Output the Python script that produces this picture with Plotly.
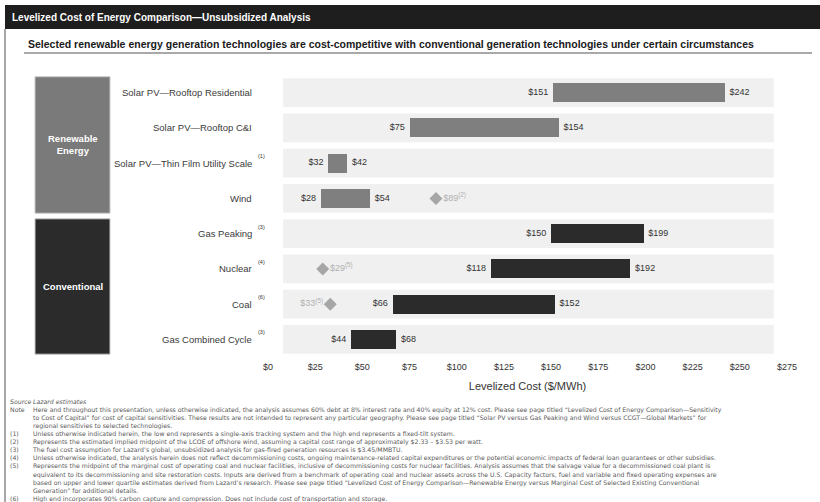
import plotly.graph_objects as go

# ---------------- data ----------------
categories = ["Solar PV—Rooftop Residential", "Solar PV—Rooftop C&I",
              "Solar PV—Thin Film Utility Scale", "Wind", "Gas Peaking",
              "Nuclear", "Coal", "Gas Combined Cycle"]
cat_notes = ["", "", "(1)", "", "(3)", "(4)", "(6)", "(3)"]
groups = ["Renewable", "Renewable", "Renewable", "Renewable",
          "Conventional", "Conventional", "Conventional", "Conventional"]
low_values = [151, 75, 32, 28, 150, 118, 66, 44]
high_values = [242, 154, 42, 54, 199, 192, 152, 68]
marker_rows = ["Wind", "Nuclear", "Coal"]
marker_values = [89, 29, 33]
marker_notes = ["(2)", "(5)", "(5)"]
marker_sides = ["right", "right", "left"]
tick_values = [0, 25, 50, 75, 100, 125, 150, 175, 200, 225, 250, 275]
tick_labels = ["$" + str(v) for v in tick_values]

title_text = "Levelized Cost of Energy Comparison—Unsubsidized Analysis"
subtitle_text = ("Selected renewable energy generation technologies are cost-competitive "
                 "with conventional generation technologies under certain circumstances")
footnotes = [
    ("<i>Source</i>", "<i>Lazard estimates</i>"),
    ("Note", "Here and throughout this presentation, unless otherwise indicated, the analysis assumes 60% debt at 8% interest rate and 40% equity at 12% cost. Please see page titled \u201cLevelized Cost of Energy Comparison\u2014Sensitivity"),
    ("", "to Cost of Capital\u201d for cost of capital sensitivities. These results are not intended to represent any particular geography. Please see page titled \u201cSolar PV versus Gas Peaking and Wind versus CCGT\u2014Global Markets\u201d for"),
    ("", "regional sensitivies to selected technologies."),
    ("(1)", "Unless otherwise indicated herein, the low end represents a single-axis tracking system and the high end represents a fixed-tilt system."),
    ("(2)", "Represents the estimated implied midpoint of the LCOE of offshore wind, assuming a capital cost range of approximately $2.33 \u2013 $3.53 per watt."),
    ("(3)", "The fuel cost assumption for Lazard\u2019s global, unsubsidized analysis for gas-fired generation resources is $3.45/MMBTU."),
    ("(4)", "Unless otherwise indicated, the analysis herein does not reflect decommissioning costs, ongoing maintenance-related capital expenditures or the potential economic impacts of federal loan guarantees or other subsidies."),
    ("(5)", "Represents the midpoint of the marginal cost of operating coal and nuclear facilities, inclusive of decommissioning costs for nuclear facilities. Analysis assumes that the salvage value for a decommissioned coal plant is"),
    ("", "equivalent to its decommissioning and site restoration costs. Inputs are derived from a benchmark of operating coal and nuclear assets across the U.S. Capacity factors, fuel and variable and fixed operating expenses are"),
    ("", "based on upper and lower quartile estimates derived from Lazard\u2019s research. Please see page titled \u201cLevelized Cost of Energy Comparison\u2014Renewable Energy versus Marginal Cost of Selected Existing Conventional"),
    ("", "Generation\u201d for additional details."),
    ("(6)", "High end incorporates 90% carbon capture and compression. Does not include cost of transportation and storage."),
]

# ---------------- layout geometry ----------------
W, H = 820, 502
L, R, T, B = 268, 33, 75, 145
PW, PH = W - L - R, H - T - B


def px(x):
    return (x - L) / PW


def py(y):
    return 1 - (y - T) / PH


FONT = "Liberation Sans, Arial, sans-serif"
NOTE_FONT = "DejaVu Sans"
colors = {"Renewable": "#7f7f7f", "Conventional": "#2b2b2b"}
rows = list(range(len(categories)))

fig = go.Figure()

# bars (floating ranges)
fig.add_trace(go.Bar(
    y=rows, x=[h - l for l, h in zip(low_values, high_values)], base=low_values,
    orientation="h", width=0.54,
    marker=dict(color=[colors[g] for g in groups], line=dict(width=0)),
    hoverinfo="skip", showlegend=False))

# low / high value labels
fig.add_trace(go.Scatter(
    x=low_values, y=rows, mode="markers+text",
    text=["$" + str(v) for v in low_values], textposition="middle left",
    marker=dict(size=6, opacity=0), textfont=dict(family=FONT, size=9, color="#333333"),
    hoverinfo="skip", showlegend=False, cliponaxis=False))
fig.add_trace(go.Scatter(
    x=high_values, y=rows, mode="markers+text",
    text=["$" + str(v) for v in high_values], textposition="middle right",
    marker=dict(size=6, opacity=0), textfont=dict(family=FONT, size=9, color="#333333"),
    hoverinfo="skip", showlegend=False, cliponaxis=False))

# marginal-cost diamonds
for name, val, note, side in zip(marker_rows, marker_values, marker_notes, marker_sides):
    r = categories.index(name)
    fig.add_trace(go.Scatter(
        x=[val], y=[r], mode="markers+text",
        text=["$" + str(val) + "<sup>" + note + "</sup>"],
        textposition="middle " + side,
        marker=dict(symbol="diamond", size=10, color="#a6a6a6"),
        textfont=dict(family=FONT, size=9, color="#b0b0b0"),
        hoverinfo="skip", showlegend=False, cliponaxis=False))

shapes = []
# background bands
for r in rows:
    shapes.append(dict(type="rect", xref="x", yref="y", x0=8, x1=268,
                       y0=r - 0.41, y1=r + 0.41, fillcolor="#f0f0f0",
                       line=dict(width=0), layer="below"))
# header bar
shapes.append(dict(type="rect", xref="paper", yref="paper", x0=px(5), x1=px(822),
                   y0=py(29), y1=py(5), fillcolor="#1e1e1e", line=dict(width=0)))
# left border of panel
shapes.append(dict(type="line", xref="paper", yref="paper", x0=px(5), x1=px(5),
                   y0=py(29), y1=py(503), line=dict(color="#8a8a8a", width=1.5)))
# subtitle underline
shapes.append(dict(type="line", xref="paper", yref="paper", x0=px(24), x1=px(812),
                   y0=py(53), y1=py(53), line=dict(color="#8c8c8c", width=1.5)))
# group boxes
shapes.append(dict(type="rect", xref="paper", yref="y", x0=px(35), x1=px(110),
                   y0=-0.45, y1=3.42, fillcolor="#7a7a7a", line=dict(color="#c8c8c8", width=1)))
shapes.append(dict(type="rect", xref="paper", yref="y", x0=px(35), x1=px(110),
                   y0=3.58, y1=7.42, fillcolor="#2b2b2b", line=dict(color="#c8c8c8", width=1)))

annotations = []
annotations.append(dict(xref="paper", yref="paper", x=px(10), y=py(17), xanchor="left",
                        yanchor="middle", showarrow=False, text="<b>" + title_text + "</b>",
                        font=dict(family=FONT, size=10, color="white")))
annotations.append(dict(xref="paper", yref="paper", x=px(26), y=py(44), xanchor="left",
                        yanchor="middle", showarrow=False, text="<b>" + subtitle_text + "</b>",
                        font=dict(family=FONT, size=10.5, color="#1a1a1a")))
annotations.append(dict(xref="paper", yref="y", x=px(72.5), y=1.48, xanchor="center",
                        yanchor="middle", showarrow=False, text="<b>Renewable<br>Energy</b>",
                        font=dict(family=FONT, size=9.5, color="white")))
annotations.append(dict(xref="paper", yref="y", x=px(72.5), y=5.5, xanchor="center",
                        yanchor="middle", showarrow=False, text="<b>Conventional</b>",
                        font=dict(family=FONT, size=9.5, color="white")))
for r, (c, n) in enumerate(zip(categories, cat_notes)):
    annotations.append(dict(xref="paper", yref="y", x=px(254), y=r, xanchor="right",
                            yanchor="middle", showarrow=False, text=c,
                            font=dict(family=FONT, size=9.5, color="#3a3a3a")))
    if n:
        annotations.append(dict(xref="paper", yref="y", x=px(256), y=r, xanchor="left",
                                yanchor="middle", yshift=7, showarrow=False, text=n,
                                font=dict(family=FONT, size=5.5, color="#333333")))

# footnotes: two multi-line blocks (labels column and text column)
label_block = "<br>".join(lab if lab else "\u00a0" for lab, _ in footnotes)
text_block = "<br>".join(txt for _, txt in footnotes)
for xpos, block in ((8, label_block), (30, text_block)):
    annotations.append(dict(xref="paper", yref="paper", x=px(xpos), y=py(396),
                            xanchor="left", yanchor="top", align="left", showarrow=False,
                            text=block,
                            font=dict(family=NOTE_FONT, size=6.2, color="#5a5a5a")))

fig.update_layout(
    width=W, height=H, margin=dict(l=L, r=R, t=T, b=B, pad=0),
    paper_bgcolor="white", plot_bgcolor="white",
    shapes=shapes, annotations=annotations, showlegend=False,
    xaxis=dict(range=[0, 275], tickvals=tick_values, ticktext=tick_labels,
               showgrid=False, zeroline=False, showline=False, ticks="",
               ticklabelstandoff=3,
               tickfont=dict(family=FONT, size=9, color="#333333"),
               title=dict(text="Levelized Cost ($/MWh)", standoff=11,
                          font=dict(family=FONT, size=11, color="#333333")),
               fixedrange=True),
    yaxis=dict(range=[7.5, -0.5], showticklabels=False, showgrid=False,
               zeroline=False, showline=False, ticks="", fixedrange=True),
    bargap=0,
)

fig.write_html("out.html")
